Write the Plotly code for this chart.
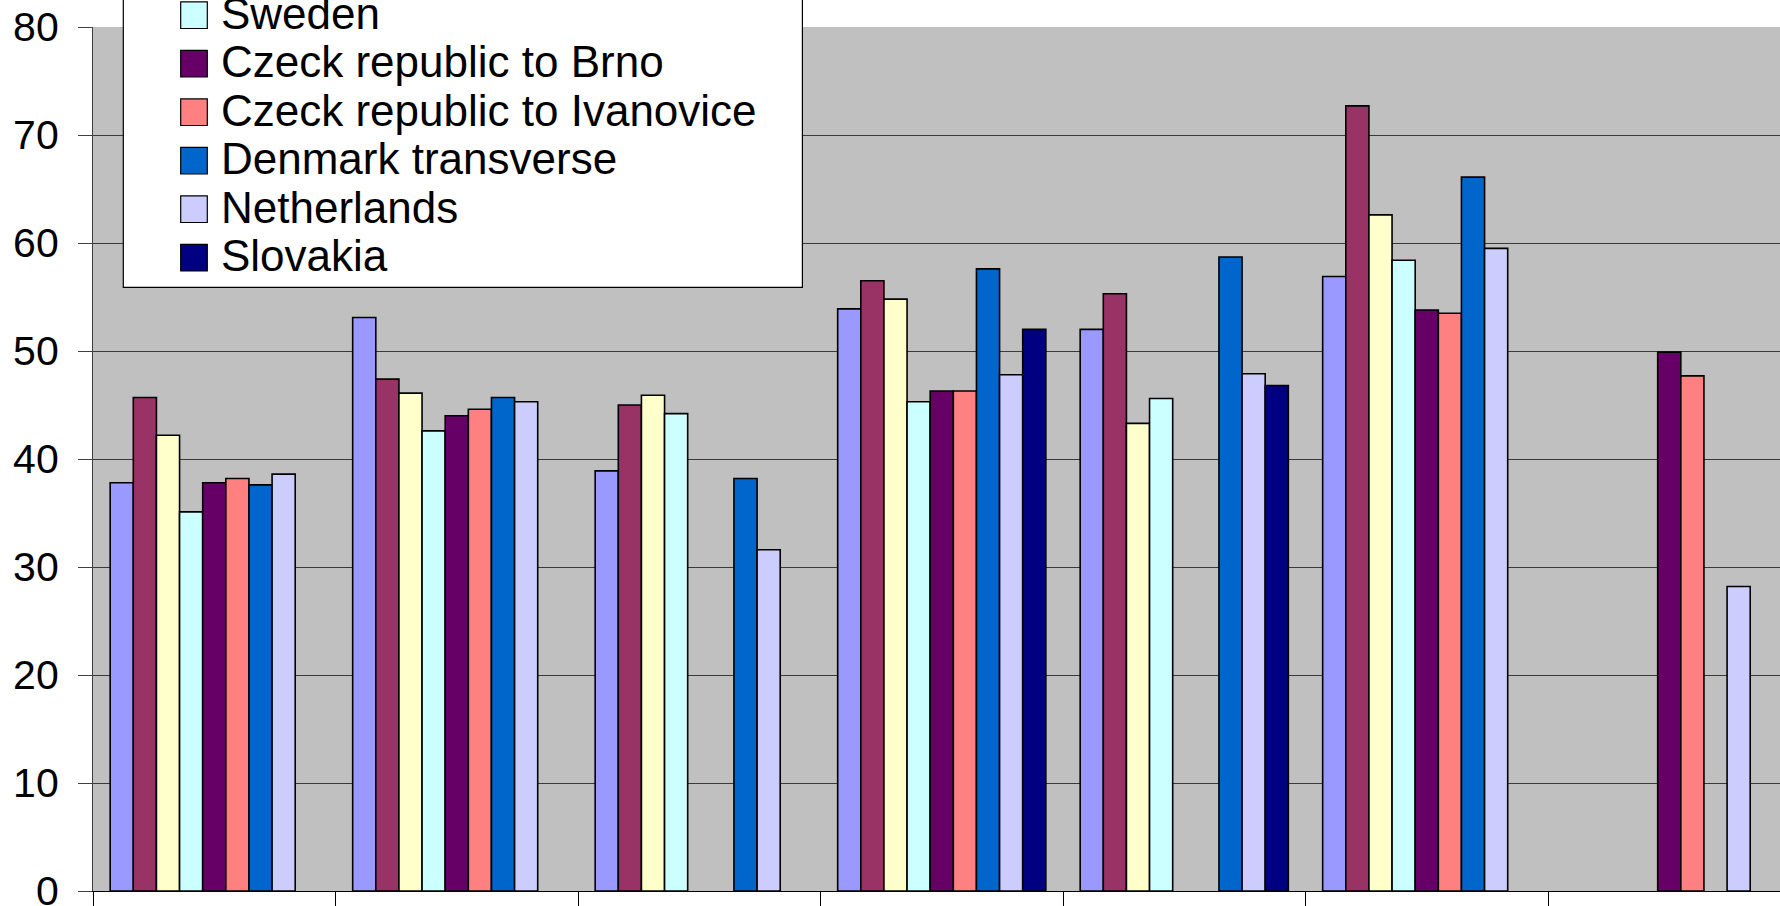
import plotly.graph_objects as go

# ---------------- data ----------------
categories = ["1", "2", "3", "4", "5", "6", "7"]

series_names = [
    "Series 1", "Series 2", "Series 3",
    "Sweden", "Czeck republic to Brno", "Czeck republic to Ivanovice",
    "Denmark transverse", "Netherlands", "Slovakia",
]
series_colors = [
    "#9999FF", "#993366", "#FFFFCC",
    "#CCFFFF", "#660066", "#FF8080",
    "#0066CC", "#CCCCFF", "#000080",
]

s1          = [37.8, 53.1, 38.9, 53.9, 52.0, 56.9, None]
s2          = [45.7, 47.4, 45.0, 56.5, 55.3, 72.7, None]
s3          = [42.2, 46.1, 45.9, 54.8, 43.3, 62.6, None]
sweden      = [35.1, 42.6, 44.2, 45.3, 45.6, 58.4, None]
brno        = [37.8, 44.0, None, 46.3, None, 53.8, 49.9]
ivanovice   = [38.2, 44.6, None, 46.3, None, 53.5, 47.7]
denmark     = [37.6, 45.7, 38.2, 57.6, 58.7, 66.1, None]
netherlands = [38.6, 45.3, 31.6, 47.8, 47.9, 59.5, 28.2]
slovakia    = [None, None, None, 52.0, 46.8, None, None]

series_values = [s1, s2, s3, sweden, brno, ivanovice, denmark, netherlands, slovakia]

y_ticks = [0, 10, 20, 30, 40, 50, 60, 70, 80]

# ---------------- layout geometry (pixels) ----------------
W, H = 1780, 906
ML, MT, MB = 93, 27, 15
PLOT_W = W - ML
PLOT_H = H - MT - MB
CAT_W = 242.5
FONT = "Liberation Sans, Arial, sans-serif"


def px_x(p):
    return (p - ML) / PLOT_W


def px_y(p):
    return (H - MB - p) / PLOT_H


fig = go.Figure()
for name, color, vals in zip(series_names, series_colors, series_values):
    fig.add_trace(go.Bar(
        x=categories, y=vals, name=name,
        marker=dict(color=color, line=dict(color="black", width=1.6)),
        showlegend=False,
    ))

# ---------------- custom legend (top entries cut off by the frame) ----------------
shapes = [dict(
    type="rect", xref="paper", yref="paper", layer="above",
    x0=px_x(123.3), x1=px_x(802.4), y0=px_y(287.3), y1=px_y(-10),
    fillcolor="white", line=dict(color="black", width=1.2),
)]
annotations = []
visible = list(range(3, 9))
n = len(visible)
for k, idx in enumerate(visible):
    cy = 257.7 - (n - 1 - k) * 48.5
    shapes.append(dict(
        type="rect", xref="paper", yref="paper", layer="above",
        x0=px_x(180.7), x1=px_x(207.3), y0=px_y(cy + 13.3), y1=px_y(cy - 13.3),
        fillcolor=series_colors[idx], line=dict(color="black", width=1.2),
    ))
    annotations.append(dict(
        xref="paper", yref="paper", x=px_x(219), y=px_y(cy - 2),
        xanchor="left", yanchor="middle", showarrow=False,
        text=series_names[idx], font=dict(family=FONT, size=44, color="black"),
    ))

fig.update_layout(
    width=W, height=H,
    margin=dict(l=ML, r=0, t=MT, b=MB, autoexpand=False),
    paper_bgcolor="white",
    plot_bgcolor="#C0C0C0",
    barmode="group",
    bargap=1 - 9 * 23.13 / CAT_W,
    bargroupgap=0,
    showlegend=False,
    shapes=shapes,
    annotations=annotations,
    font=dict(family=FONT, color="black"),
)

fig.update_xaxes(
    type="category",
    range=[-0.5, -0.5 + PLOT_W / CAT_W],
    showline=True, linecolor="black", linewidth=1.2,
    ticks="outside", tickson="boundaries", ticklen=16, tickcolor="black", tickwidth=1.2,
    showticklabels=False, showgrid=False, zeroline=False,
)
fig.update_yaxes(
    range=[0, 80], tickvals=y_ticks,
    showline=True, linecolor="#404040", linewidth=1.2,
    ticks="outside", ticklen=14, tickcolor="#404040", tickwidth=1.2,
    ticklabelstandoff=11, ticklabeloverflow="allow",
    tickfont=dict(family=FONT, size=41, color="black"),
    showgrid=True, gridcolor="#3a3a3a", gridwidth=1,
    zeroline=False,
)

fig.write_html(
    "out.html",
    config={"displayModeBar": False},
    post_script="document.body.style.margin='0';document.body.style.overflow='hidden';",
)
